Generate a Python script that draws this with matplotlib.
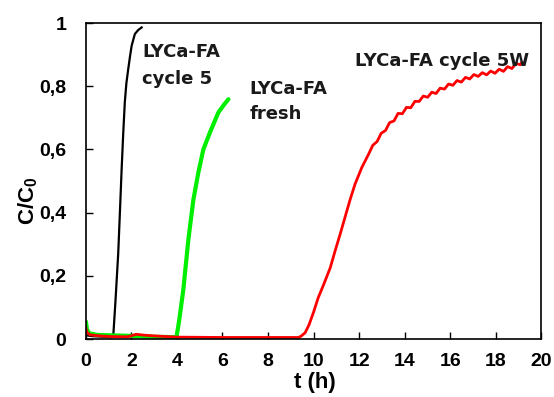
import matplotlib

matplotlib.use("Agg")
import matplotlib.pyplot as plt

# LYCa-FA cycle 5 (black)
t_cycle5 = [0.0, 0.3, 0.6, 1.0, 1.2, 1.3, 1.42, 1.5, 1.57, 1.64, 1.71, 1.78, 1.86, 1.94,
            2.01, 2.15, 2.3, 2.45]
c_cycle5 = [0.012, 0.009, 0.008, 0.006, 0.006, 0.12, 0.27, 0.41, 0.536, 0.65, 0.749,
            0.81, 0.854, 0.895, 0.928, 0.965, 0.978, 0.986]

# LYCa-FA fresh (green)
t_fresh = [0.0, 0.05, 0.15, 0.5, 1.0, 2.0, 3.0, 3.98, 4.1, 4.28, 4.5, 4.72, 4.94, 5.16,
           5.45, 5.82, 6.05, 6.26]
c_fresh = [0.055, 0.03, 0.018, 0.013, 0.012, 0.01, 0.007, 0.006, 0.06, 0.156, 0.314,
           0.44, 0.527, 0.6, 0.654, 0.717, 0.74, 0.759]

# LYCa-FA cycle 5W (red)
t_5w = [0.0, 0.05, 0.2, 0.6, 1.0, 1.8, 2.0, 2.2, 2.6, 3.0, 4.0, 6.0, 8.0, 9.33, 9.45,
        9.63, 9.8, 10.0, 10.2, 10.43, 10.73, 10.95, 11.16, 11.38, 11.6, 11.82, 12.12,
        12.41,
        12.6, 12.79, 12.97, 13.16, 13.34, 13.53, 13.71, 13.9, 14.08, 14.27, 14.45,
        14.64, 14.82, 15.01, 15.19, 15.38, 15.56, 15.75, 15.93, 16.12, 16.3, 16.49,
        16.67, 16.86, 17.04, 17.23, 17.41, 17.6, 17.78, 17.97, 18.15, 18.34, 18.52,
        18.71, 18.89, 19.08, 19.14]
c_5w = [0.035, 0.02, 0.013, 0.01, 0.008, 0.007, 0.01, 0.015, 0.012, 0.01, 0.006, 0.005,
        0.005, 0.005, 0.009, 0.02, 0.045, 0.085, 0.13, 0.17, 0.225, 0.28, 0.33, 0.385,
        0.44, 0.49, 0.543, 0.584,
        0.613, 0.625, 0.651, 0.66, 0.685, 0.69, 0.714, 0.713, 0.733, 0.732, 0.752,
        0.752, 0.769, 0.765, 0.781, 0.777, 0.794, 0.791, 0.807, 0.803, 0.818, 0.813,
        0.828, 0.823, 0.837, 0.831, 0.843, 0.836, 0.848, 0.841, 0.854, 0.847, 0.862,
        0.856, 0.872, 0.868, 0.875]

x_ticks = [0, 2, 4, 6, 8, 10, 12, 14, 16, 18, 20]
y_ticks = [0, 0.2, 0.4, 0.6, 0.8, 1.0]
y_tick_labels = ["0", "0,2", "0,4", "0,6", "0,8", "1"]

plt.rcParams["mathtext.fontset"] = "custom"
plt.rcParams["mathtext.bf"] = "Liberation Sans:bold"
plt.rcParams["mathtext.rm"] = "Liberation Sans:bold"

fig = plt.figure(figsize=(5.54, 3.97), dpi=100)
ax = fig.add_axes([0.155, 0.146, 0.822, 0.796])

ax.plot(t_cycle5, c_cycle5, color="black", lw=1.6, solid_joinstyle="round")
ax.plot(t_fresh, c_fresh, color="#00ee00", lw=3, solid_joinstyle="round",
        solid_capstyle="round")
ax.plot(t_5w, c_5w, color="#ff0000", lw=2, solid_joinstyle="round")

ax.set_xlim(0, 20)
ax.set_ylim(0, 1)
ax.set_xticks(x_ticks)
ax.set_yticks(y_ticks)
ax.set_yticklabels(y_tick_labels)
ax.tick_params(direction="in", length=5, width=1, top=False, right=False)
ax.tick_params(axis="x", pad=10)
ax.tick_params(axis="y", pad=14)
for lab in ax.get_xticklabels() + ax.get_yticklabels():
    lab.set_fontfamily("Liberation Sans")
    lab.set_fontweight("bold")
    lab.set_fontsize(14)
for sp in ax.spines.values():
    sp.set_linewidth(1.2)

ax.set_xlabel("t (h)", fontfamily="Liberation Sans", fontweight="bold", fontsize=16)
ax.xaxis.set_label_coords(0.503, -0.105)
ax.set_ylabel(r"C/C$_\mathbf{0}$", fontfamily="Liberation Sans", fontweight="bold",
              fontsize=16)
ax.yaxis.set_label_coords(-0.10, 0.437)

note = dict(fontfamily="DejaVu Sans", fontweight="bold", fontsize=13, color="#1a1a1a",
            ha="left", va="baseline")
ax.text(2.46, 0.892, "LYCa-FA", **note)
ax.text(2.46, 0.806, "cycle 5", **note)
ax.text(7.2, 0.775, "LYCa-FA", **note)
ax.text(7.2, 0.695, "fresh", **note)
ax.text(11.82, 0.863, "LYCa-FA cycle 5W", **note)

fig.savefig("out.png", dpi=100)
